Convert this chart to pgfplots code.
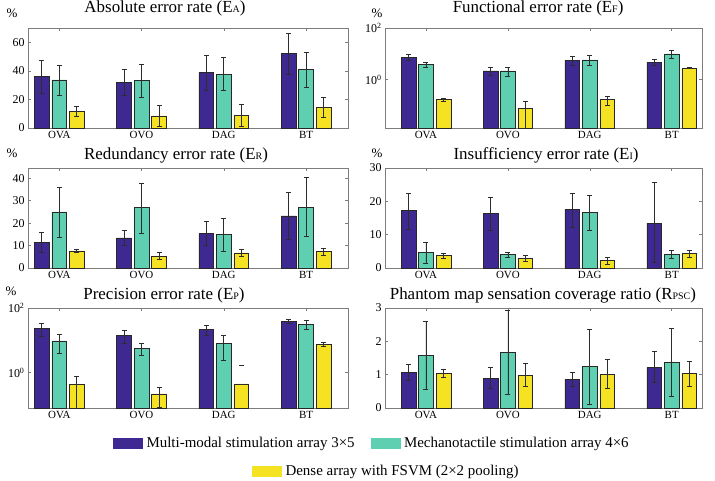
\documentclass[border=0pt]{standalone}
\usepackage{fontspec}
\setmainfont{Liberation Serif}
\usepackage{pgfplots}
\pgfplotsset{compat=1.18}
\usepackage{pgfplotstable}

\definecolor{cblue}{RGB}{61,41,145}
\definecolor{cgreen}{RGB}{94,207,176}
\definecolor{cyel}{RGB}{244,226,35}
\definecolor{axgray}{RGB}{125,125,125}
\definecolor{edge}{RGB}{40,40,40}
\definecolor{errc}{RGB}{45,45,45}

% x  blue low high  green low high  yellow low high
\pgfplotstableread{
x b bl bh g gl gh y yl yh
1 36.2 24.2 47.1 33.7 22.8 44.1 11.8 8.1 15.2
2 32.1 22.8 41.1 33.2 21.5 44.8 8.5 0.9 15.9
3 38.8 26.1 51.2 37.6 26.1 49.2 9.0 1.2 16.6
4 52.2 37.6 66.5 40.8 28.4 53.1 14.5 7.8 21.5
}\tA
\pgfplotstableread{
x b bl bh g gl gh y yl yh
1 7.3 5.6 9.9 3.8 3.0 4.8 0.168 0.145 0.19
2 2.17 1.43 3.1 2.17 1.34 3.1 0.080 0.005 0.145
3 5.6 3.5 8.0 5.9 3.7 9.0 0.168 0.099 0.234
4 4.7 3.5 5.9 9.9 6.7 14.1 2.83 2.76 2.9
}\tF
\pgfplotstableread{
x b bl bh g gl gh y yl yh
1 11.4 7.0 16.0 25.0 13.7 36.1 7.6 6.8 8.5
2 13.4 10.0 16.9 26.9 15.5 38.0 5.3 3.7 7.0
3 15.3 10.1 20.8 15.0 7.6 22.3 6.7 5.1 8.5
4 23.3 12.9 33.9 27.2 14.0 40.4 7.3 5.8 8.6
}\tR
\pgfplotstableread{
x b bl bh g gl gh y yl yh
1 17.2 11.7 22.5 4.6 1.5 7.8 3.8 3.0 4.5
2 16.3 11.3 21.3 4.0 3.1 4.8 3.0 2.0 3.9
3 17.6 12.3 22.5 16.6 11.4 21.7 2.2 1.0 3.3
4 13.5 1.6 25.8 4.0 2.8 5.4 4.3 3.3 5.4
}\tI
\pgfplotstableread{
x b bl bh g gl gh y yl yh
1 23.7 13.3 34 9.7 4.0 15.4 0.43 0.01 0.785
2 14.0 8.1 20 5.6 3.5 8.1 0.22 0.083 0.365
3 21.5 14.7 29.4 8.1 2.4 14.0 0.45 0.45 0.45
4 39.3 34.7 44 31.6 22.5 42 7.7 6.6 8.8
}\tP
\pgfplotstableread{
x b bl bh g gl gh y yl yh
1 1.07 0.83 1.30 1.58 0.56 2.61 1.03 0.91 1.16
2 0.90 0.59 1.21 1.67 0.42 2.93 0.99 0.64 1.33
3 0.86 0.64 1.06 1.24 0.11 2.36 1.00 0.60 1.46
4 1.22 0.76 1.69 1.37 0.35 2.39 1.03 0.64 1.39
}\tS

\pgfplotsset{
  panel/.style={scale only axis, height=100bp, clip mode=individual,
    axis line style={axgray, line width=0.6bp},
    every tick/.style={axgray, line width=0.5bp},
    tick align=inside, major tick length=3bp,
    xtick={1,2,3,4}, xticklabels={OVA,OVO,DAG,BT},
    xticklabel style={font=\fontsize{11}{11}\selectfont},
    yticklabel style={font=\fontsize{12}{12}\selectfont},
    /pgf/number format/assume math mode=true,
    title style={font=\fontsize{17}{17}\selectfont, anchor=base},
  },
  lp/.style={panel, width=320bp, xmin=0.62, xmax=4.51},
  rp/.style={panel, width=317bp, xmin=0.5, xmax=4.37},
  bars/.style={ybar, bar width=0.18, bar shift=0, draw=edge, line width=0.5bp, forget plot,
     error bars/y dir=both, error bars/y explicit,
     error bars/error bar style={errc, line width=0.6bp},
     error bars/error mark options={rotate=90, errc, mark size=2.5bp, line width=0.6bp}},
}

\newcommand{\threebars}[1]{%
  \addplot[bars, fill=cblue] table[x expr=\thisrow{x}-0.213, y=b,
    y error plus expr=\thisrow{bh}-\thisrow{b}, y error minus expr=\thisrow{b}-\thisrow{bl}] {#1};
  \addplot[bars, fill=cgreen] table[x=x, y=g,
    y error plus expr=\thisrow{gh}-\thisrow{g}, y error minus expr=\thisrow{g}-\thisrow{gl}] {#1};
  \addplot[bars, fill=cyel] table[x expr=\thisrow{x}+0.213, y=y,
    y error plus expr=\thisrow{yh}-\thisrow{y}, y error minus expr=\thisrow{y}-\thisrow{yl}] {#1};
}
\newcommand{\pct}[2]{\node[font=\fontsize{13}{13}\selectfont, anchor=base] at (axis description cs:#1,#2) {\%};}
\newcommand{\sub}[1]{{\fontsize{10}{10}\selectfont #1}}

\begin{document}
\begin{tikzpicture}
\useasboundingbox (0,0) rectangle (715bp,-481bp);

% Panel 1
\begin{axis}[lp, at={(28bp,-128bp)}, anchor=south west, ymin=0, ymax=70, ytick={0,20,40,60},
  title={Absolute error rate (E\sub{A})}, title style={at={(0.428,1)}, yshift=10bp}]
\threebars{\tA}
\pct{-0.05}{1.11}
\end{axis}

% Panel 2
\begin{axis}[rp, ymode=log, log origin=infty, ymin=0.0135, ymax=100, ytick={1,100},
  yticklabels={10\textsuperscript{0},10\textsuperscript{2}}, minor ytick={},
  at={(385bp,-128bp)}, anchor=south west,
  title={Functional error rate (E\sub{F})}, title style={at={(0.483,1)}, yshift=10bp}]
\threebars{\tF}
\pct{-0.025}{1.10}
\end{axis}

% Panel 3
\begin{axis}[lp, at={(28bp,-268bp)}, anchor=south west, ymin=0, ymax=44.6, ytick={0,10,20,30,40},
  title={Redundancy error rate (E\sub{R})}, title style={at={(0.4625,1)}, yshift=3bp}]
\threebars{\tR}
\pct{-0.05}{1.11}
\end{axis}

% Panel 4
\begin{axis}[rp, at={(385bp,-268bp)}, anchor=south west, ymin=0, ymax=30, ytick={0,10,20,30},
  title={Insufficiency error rate (E\sub{I})}, title style={at={(0.508,1)}, yshift=3bp}]
\threebars{\tI}
\pct{-0.025}{1.11}
\end{axis}

% Panel 5
\begin{axis}[lp, ymode=log, log origin=infty, ymin=0.081, ymax=100, ytick={1,100},
  yticklabels={10\textsuperscript{0},10\textsuperscript{2}}, minor ytick={},
  at={(28bp,-408bp)}, anchor=south west,
  title={Precision error rate (E\sub{P})}, title style={at={(0.425,1)}, yshift=3bp},
  legend style={draw=none, fill=none, inner sep=0pt, at={(0.2656,-0.35)}, anchor=west,
    legend columns=2, font=\fontsize{15}{15}\selectfont,
    /tikz/every even column/.append style={column sep=14bp},
    /tikz/every odd column/.append style={column sep=2bp}}]
\threebars{\tP}
\addplot[only marks, mark=-, mark size=2.5bp, errc, line width=0.6bp, forget plot] coordinates {(3.213,1.69)};
\addlegendimage{legend image code/.code={\fill[cblue] (0bp,-5bp) rectangle (29bp,5bp);}}
\addlegendentry{Multi-modal stimulation array 3×5}
\addlegendimage{legend image code/.code={\fill[cgreen] (0bp,-5bp) rectangle (29bp,5bp);}}
\addlegendentry{Mechanotactile stimulation array 4×6}
\pct{-0.053}{1.13}
\end{axis}

% Panel 6
\begin{axis}[rp, at={(385bp,-408bp)}, anchor=south west, ymin=0, ymax=3, ytick={0,1,2,3},
  title={Phantom map sensation coverage ratio (R\sub{PSC})}, title style={at={(0.498,1)}, yshift=3bp},
  legend style={draw=none, fill=none, inner sep=0pt, at={(-0.4196,-0.63)}, anchor=west,
    legend columns=1, font=\fontsize{15}{15}\selectfont,
    /tikz/every odd column/.append style={column sep=2bp}}]
\threebars{\tS}
\addlegendimage{legend image code/.code={\fill[cyel] (0bp,-5bp) rectangle (29bp,5bp);}}
\addlegendentry{Dense array with FSVM (2×2 pooling)}
\end{axis}
\end{tikzpicture}
\end{document}
